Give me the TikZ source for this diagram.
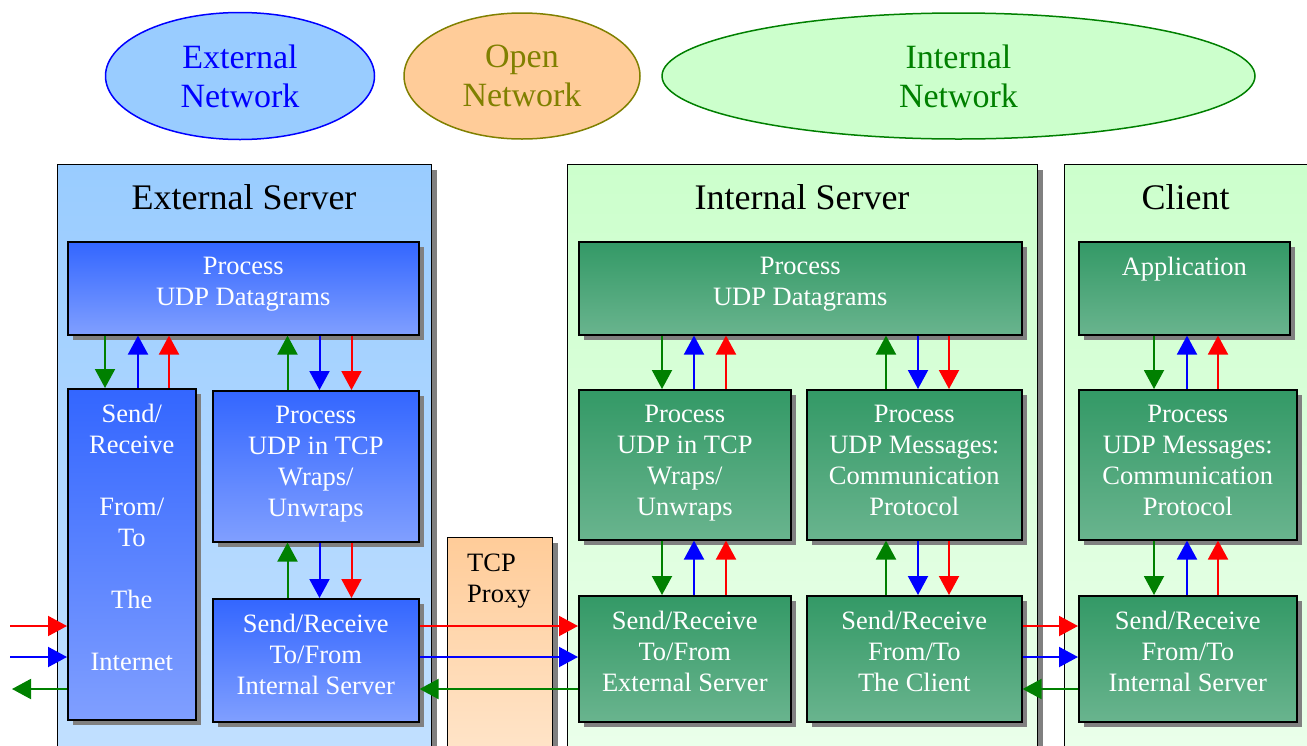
\documentclass[tikz,border=0pt]{standalone}
\usepackage{fontspec}
\setmainfont{Liberation Serif}
\usetikzlibrary{arrows.meta,shapes.geometric,shadows}

\definecolor{extfill}{HTML}{99CCFF}
\definecolor{extfillb}{HTML}{C2E0FF}
\definecolor{intfill}{HTML}{CCFFCC}
\definecolor{intfillb}{HTML}{EBFFEB}
\definecolor{bluetop}{HTML}{3366FF}
\definecolor{bluebot}{HTML}{809FFF}
\definecolor{greentop}{HTML}{339966}
\definecolor{greenbot}{HTML}{69B48E}
\definecolor{proxytop}{HTML}{FFCC99}
\definecolor{proxybot}{HTML}{FFE6CC}
\definecolor{shadowgray}{HTML}{808080}
\definecolor{olivetxt}{HTML}{808000}
\definecolor{dgreen}{HTML}{008000}
\definecolor{pblue}{HTML}{0000FF}
\definecolor{pred}{HTML}{FF0000}

\tikzset{
  shad/.style={drop shadow={shadow xshift=5pt,shadow yshift=-5pt,fill=shadowgray,opacity=1}},
  netell/.style={ellipse, line width=1.5pt, inner sep=0pt, align=center,
    font=\fontsize{34}{39}\selectfont},
  container/.style={shad, rectangle, draw=black, line width=1.2pt, inner sep=0pt, anchor=north west},
  extcont/.style={container, top color=extfill, bottom color=extfillb},
  intcont/.style={container, top color=intfill, bottom color=intfillb},
  proxybox/.style={container, top color=proxytop, bottom color=proxybot},
  title/.style={anchor=base, inner sep=0pt, font=\fontsize{36}{40}\selectfont},
  procbox/.style={shad, rectangle, draw=black, line width=1.6pt, inner sep=0pt, anchor=north west},
  bluebox/.style={procbox, top color=bluetop, bottom color=bluebot},
  greenbox/.style={procbox, top color=greentop, bottom color=greenbot},
  wtext/.style={anchor=north, align=center, text=white, inner sep=0pt,
    font=\fontsize{26.5}{31}\selectfont},
  arr/.style={line width=2pt, -{Triangle[length=19pt,width=20pt]}},
}

\begin{document}
\begin{tikzpicture}[x=1pt,y=-1pt]
\clip (0,0) rectangle (1307,745);

% network legend
\node[netell, draw=pblue, fill=extfill, text=pblue, minimum width=269pt, minimum height=127pt]
  (extnet) at (240,76) {External\\Network};
\node[netell, draw=olivetxt, fill=proxytop, text=olivetxt, minimum width=236pt, minimum height=126pt]
  (opennet) at (522,76) {Open\\Network};
\node[netell, draw=dgreen, fill=intfill, text=dgreen, minimum width=593pt, minimum height=126pt]
  (intnet) at (958.5,76) {Internal\\Network};

% machines
\node[extcont, minimum width=374pt, minimum height=600pt] (extsrv) at (57,164) {};
\node[intcont, minimum width=470pt, minimum height=600pt] (intsrv) at (567,164) {};
\node[intcont, minimum width=244pt, minimum height=600pt] (client) at (1064,164) {};
\node[proxybox, minimum width=105pt, minimum height=230pt] (proxy) at (447,537) {};

\node[title] (extsrvT) at (244,209) {External Server};
\node[title] (intsrvT) at (802,209) {Internal Server};
\node[title] (clientT) at (1185.5,209) {Client};
\node[anchor=north west, align=left, inner sep=0pt, font=\fontsize{26.5}{31}\selectfont]
  (proxyT) at (467,554) {TCP\\Proxy};

% external server blocks
\node[bluebox, minimum width=351pt, minimum height=93pt]  (eudp)  at (67,241)  {};
\node[bluebox, minimum width=128pt, minimum height=331pt] (einet) at (67,388)  {};
\node[bluebox, minimum width=206pt, minimum height=151pt] (ewrap) at (212,390) {};
\node[bluebox, minimum width=206pt, minimum height=123pt] (esr)   at (212,598) {};

% internal server blocks
\node[greenbox, minimum width=443pt, minimum height=93pt]  (iudp)  at (578,241) {};
\node[greenbox, minimum width=212pt, minimum height=150pt] (iwrap) at (578,389) {};
\node[greenbox, minimum width=215pt, minimum height=150pt] (imsg)  at (806,389) {};
\node[greenbox, minimum width=212pt, minimum height=126pt] (isre)  at (578,595) {};
\node[greenbox, minimum width=215pt, minimum height=126pt] (isrc)  at (806,595) {};

% client blocks
\node[greenbox, minimum width=211pt, minimum height=93pt]  (capp) at (1078,241) {};
\node[greenbox, minimum width=218pt, minimum height=150pt] (cmsg) at (1078,389) {};
\node[greenbox, minimum width=218pt, minimum height=126pt] (csr)  at (1078,595) {};

% block labels
\node[wtext] (eudpT)  at ([yshift=-16pt]eudp.north)  {Process\\UDP Datagrams};
\node[wtext] (einetT) at ([yshift=-16pt]einet.north) {Send/\\Receive\\[31pt]From/\\To\\[31pt]The\\[31pt]Internet};
\node[wtext] (ewrapT) at ([yshift=-16pt]ewrap.north) {Process\\UDP in TCP\\Wraps/\\Unwraps};
\node[wtext] (esrT)   at ([yshift=-16pt]esr.north)   {Send/Receive\\To/From\\Internal Server};
\node[wtext] (iudpT)  at ([yshift=-16pt]iudp.north)  {Process\\UDP Datagrams};
\node[wtext] (iwrapT) at ([yshift=-16pt]iwrap.north) {Process\\UDP in TCP\\Wraps/\\Unwraps};
\node[wtext] (imsgT)  at ([yshift=-16pt]imsg.north)  {Process\\UDP Messages:\\Communication\\Protocol};
\node[wtext] (isreT)  at ([yshift=-16pt]isre.north)  {Send/Receive\\To/From\\External Server};
\node[wtext] (isrcT)  at ([yshift=-16pt]isrc.north)  {Send/Receive\\From/To\\The Client};
\node[wtext] (cappT)  at ([yshift=-16pt]capp.north)  {Application};
\node[wtext] (cmsgT)  at ([yshift=-16pt]cmsg.north)  {Process\\UDP Messages:\\Communication\\Protocol};
\node[wtext] (csrT)   at ([yshift=-16pt]csr.north)   {Send/Receive\\From/To\\Internal Server};

% lanes for the vertical connectors
\coordinate (e1) at (105,0);   \coordinate (e2) at (138,0);   \coordinate (e3) at (169,0);
\coordinate (e4) at (287.5,0); \coordinate (e5) at (319.5,0); \coordinate (e6) at (351.5,0);
\coordinate (i1) at (662,0);   \coordinate (i2) at (694,0);   \coordinate (i3) at (726,0);
\coordinate (i4) at (886,0);   \coordinate (i5) at (918,0);   \coordinate (i6) at (949,0);
\coordinate (k1) at (1154,0);  \coordinate (k2) at (1187,0);  \coordinate (k3) at (1218,0);
% lanes for the horizontal connectors
\coordinate (r1) at (0,626); \coordinate (r2) at (0,657); \coordinate (r3) at (0,689);
\coordinate (inR) at (10,626); \coordinate (inB) at (10,657); \coordinate (outG) at (12,689);

% external server
\draw[arr, dgreen] (e1 |- eudp.south) -- (e1 |- einet.north);
\draw[arr, pblue]  (e2 |- einet.north) -- (e2 |- eudp.south);
\draw[arr, pred]   (e3 |- einet.north) -- (e3 |- eudp.south);
\draw[arr, dgreen] (e4 |- ewrap.north) -- (e4 |- eudp.south);
\draw[arr, pblue]  (e5 |- eudp.south) -- (e5 |- ewrap.north);
\draw[arr, pred]   (e6 |- eudp.south) -- (e6 |- ewrap.north);
\draw[arr, dgreen] (e4 |- esr.north) -- (e4 |- ewrap.south);
\draw[arr, pblue]  (e5 |- ewrap.south) -- (e5 |- esr.north);
\draw[arr, pred]   (e6 |- ewrap.south) -- (e6 |- esr.north);

% internal server
\draw[arr, dgreen] (i1 |- iudp.south) -- (i1 |- iwrap.north);
\draw[arr, pblue]  (i2 |- iwrap.north) -- (i2 |- iudp.south);
\draw[arr, pred]   (i3 |- iwrap.north) -- (i3 |- iudp.south);
\draw[arr, dgreen] (i1 |- iwrap.south) -- (i1 |- isre.north);
\draw[arr, pblue]  (i2 |- isre.north) -- (i2 |- iwrap.south);
\draw[arr, pred]   (i3 |- isre.north) -- (i3 |- iwrap.south);
\draw[arr, dgreen] (i4 |- imsg.north) -- (i4 |- iudp.south);
\draw[arr, pblue]  (i5 |- iudp.south) -- (i5 |- imsg.north);
\draw[arr, pred]   (i6 |- iudp.south) -- (i6 |- imsg.north);
\draw[arr, dgreen] (i4 |- isrc.north) -- (i4 |- imsg.south);
\draw[arr, pblue]  (i5 |- imsg.south) -- (i5 |- isrc.north);
\draw[arr, pred]   (i6 |- imsg.south) -- (i6 |- isrc.north);

% client
\draw[arr, dgreen] (k1 |- capp.south) -- (k1 |- cmsg.north);
\draw[arr, pblue]  (k2 |- cmsg.north) -- (k2 |- capp.south);
\draw[arr, pred]   (k3 |- cmsg.north) -- (k3 |- capp.south);
\draw[arr, dgreen] (k1 |- cmsg.south) -- (k1 |- csr.north);
\draw[arr, pblue]  (k2 |- csr.north) -- (k2 |- cmsg.south);
\draw[arr, pred]   (k3 |- csr.north) -- (k3 |- cmsg.south);

% internet side
\draw[arr, pred]   (inR) -- (einet.west |- r1);
\draw[arr, pblue]  (inB) -- (einet.west |- r2);
\draw[arr, dgreen] (einet.west |- r3) -- (outG);

% through the TCP proxy
\draw[arr, pred]   (esr.east |- r1) -- (isre.west |- r1);
\draw[arr, pblue]  (esr.east |- r2) -- (isre.west |- r2);
\draw[arr, dgreen] (isre.west |- r3) -- (esr.east |- r3);

% internal server to client
\draw[arr, pred]   (isrc.east |- r1) -- (csr.west |- r1);
\draw[arr, pblue]  (isrc.east |- r2) -- (csr.west |- r2);
\draw[arr, dgreen] (csr.west |- r3) -- (isrc.east |- r3);
\end{tikzpicture}
\end{document}
